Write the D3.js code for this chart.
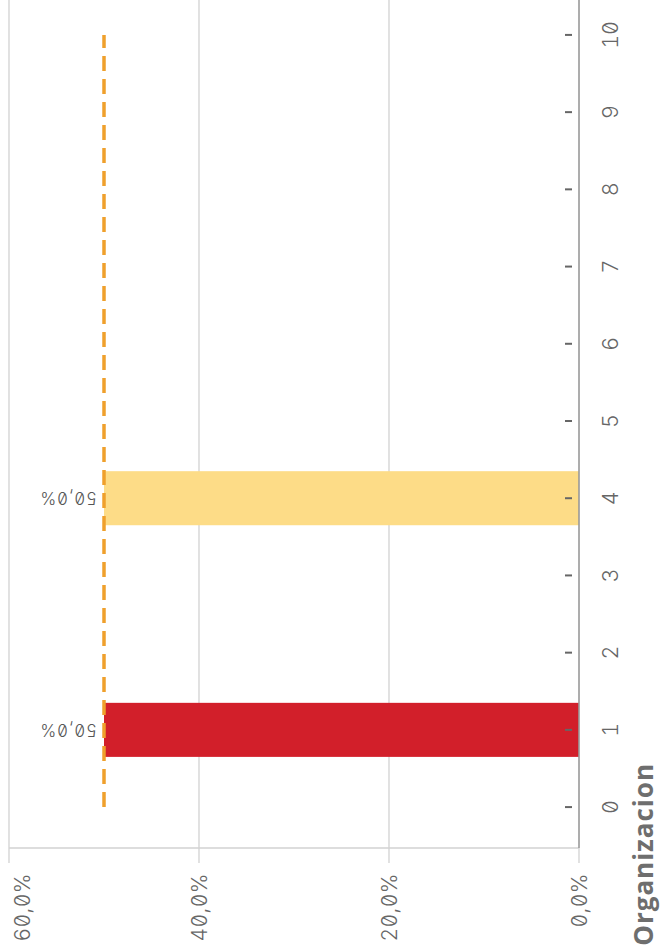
<!DOCTYPE html>
<html><head><meta charset="utf-8">
<script src="https://cdn.jsdelivr.net/npm/d3@7"></script>
<style>html,body{margin:0;padding:0;background:#fff;overflow:hidden}</style>
</head><body>
<svg id="c" width="661" height="950"></svg>
<script>
const categories = ["0","1","2","3","4","5","6","7","8","9","10"];
const barCategories = ["1","4"];
const barValues = [0.5, 0.5];
const barColors = ["#D21F2A", "#FDDC87"];
const targetValue = 0.5;
const valueTicks = [0, 0.2, 0.4, 0.6];
const axisTitle = "Organizacion";

const W = 661, H = 950;
const svg = d3.select("#c");
// chart is built upright (width H, height W) and then rotated -90deg
const g = svg.append("g").attr("transform", `translate(0,${H}) rotate(-90)`);

const x = d3.scaleBand().domain(categories).range([102, 956]).paddingInner(0.3).paddingOuter(0.18);
const y = d3.scaleLinear().domain([0, 0.6]).range([579, 9]);
const locale = d3.formatLocale({decimal: ",", thousands: ".", grouping: [3], currency: ["", "€"]});
const fmt = locale.format(".1%");
const lab = "Inter, 'DejaVu Sans Mono', monospace";
const feat = "'zero' 1, 'tnum' 1";
const x0 = x.range()[0], x1 = x.range()[1];

// gridlines + value ticks
g.selectAll(".grid").data(valueTicks).join("line")
  .attr("x1", x0 - 15).attr("x2", d => d === 0 ? x0 : x1)
  .attr("y1", d => y(d)).attr("y2", d => y(d))
  .attr("stroke", "#d2d2d2").attr("stroke-width", 1.3);

// value axis line
g.append("line").attr("x1", x0).attr("x2", x0)
  .attr("y1", y(0.6)).attr("y2", y(0))
  .attr("stroke", "#d2d2d2").attr("stroke-width", 1.5);

// value labels
g.selectAll(".vl").data(valueTicks).join("text")
  .attr("x", x0 - 25)
  .attr("y", d => Math.max(y(d), y.range()[1] + 13))
  .attr("dy", "0.36em")
  .attr("text-anchor", "end")
  .attr("font-family", lab).attr("font-weight", 300).attr("font-size", 21)
  .style("font-feature-settings", feat).attr("letter-spacing", 0.5)
  .attr("fill", "#666")
  .text(d => fmt(d));

// bars
g.selectAll(".bar").data(barCategories).join("rect")
  .attr("x", d => x(d))
  .attr("width", x.bandwidth())
  .attr("y", (d, i) => y(barValues[i]))
  .attr("height", (d, i) => y(0) - y(barValues[i]))
  .attr("fill", (d, i) => barColors[i]);

// category axis line
g.append("line").attr("x1", x0).attr("x2", x1)
  .attr("y1", y(0)).attr("y2", y(0))
  .attr("stroke", "#999").attr("stroke-width", 1.6);

// category tick marks (inner, detached)
g.selectAll(".ct").data(categories).join("line")
  .attr("x1", d => x(d) + x.bandwidth() / 2).attr("x2", d => x(d) + x.bandwidth() / 2)
  .attr("y1", y(0) - 14).attr("y2", y(0) - 7)
  .attr("stroke", "#666").attr("stroke-width", 2);

// category labels
g.selectAll(".cl").data(categories).join("text")
  .attr("x", d => x(d) + x.bandwidth() / 2)
  .attr("y", y(0) + 39)
  .attr("text-anchor", "middle")
  .attr("font-family", lab).attr("font-weight", 300).attr("font-size", 21.5)
  .style("font-feature-settings", feat)
  .attr("fill", "#666")
  .text(d => d);

// target dashed line
g.append("line")
  .attr("x1", x(categories[0]) + x.bandwidth() / 2)
  .attr("x2", x(categories[categories.length - 1]) + x.bandwidth() / 2)
  .attr("y1", y(targetValue)).attr("y2", y(targetValue))
  .attr("stroke", "#EFA02C").attr("stroke-width", 3.5)
  .attr("stroke-dasharray", "15 8");

// data labels
g.selectAll(".dl").data(barCategories).join("text")
  .attr("transform", (d, i) => `translate(${x(d) + x.bandwidth() / 2},${y(barValues[i]) - 7}) rotate(-90)`)
  .attr("dy", "0.36em")
  .attr("text-anchor", "start")
  .attr("font-family", lab).attr("font-weight", 300).attr("font-size", 17)
  .style("font-feature-settings", feat).attr("letter-spacing", 0.8)
  .attr("fill", "#555")
  .text((d, i) => fmt(barValues[i]));

// axis title
g.append("text")
  .attr("x", 187).attr("y", y(0) + 74)
  .attr("text-anchor", "end")
  .attr("font-family", "'Open Sans', sans-serif").attr("font-weight", "bold")
  .attr("font-size", 26).attr("letter-spacing", 1)
  .attr("fill", "#6e6e6e")
  .text(axisTitle);
</script>
</body></html>
